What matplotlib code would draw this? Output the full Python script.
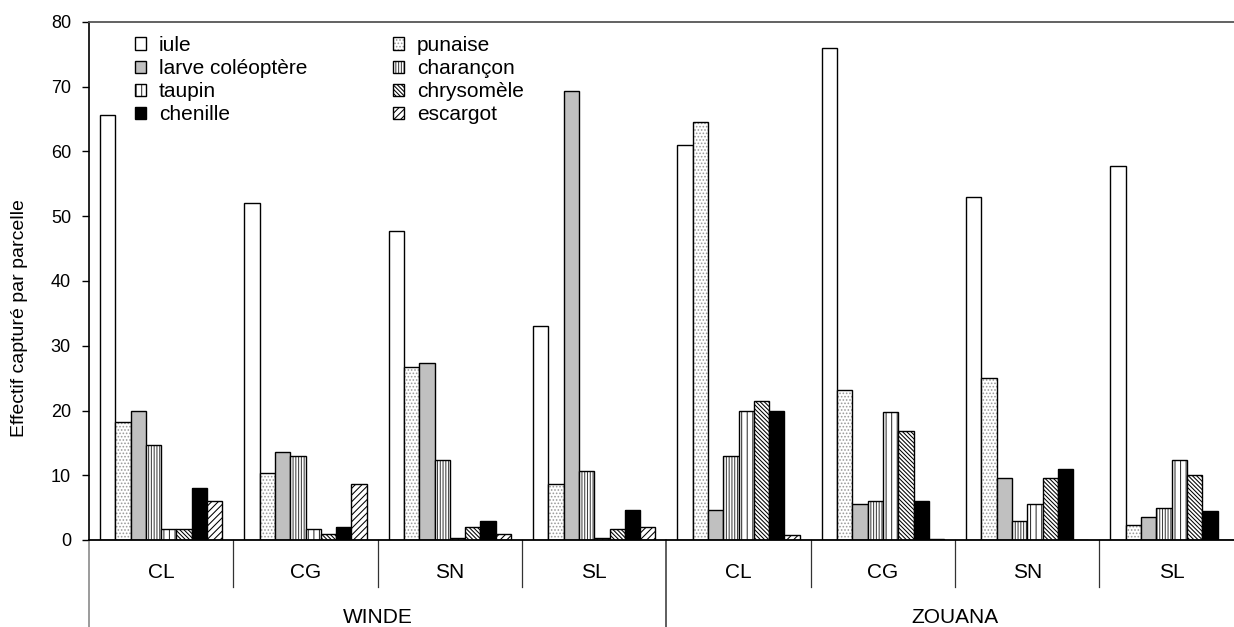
import numpy as np
import matplotlib
matplotlib.use('Agg')
import matplotlib.pyplot as plt
from matplotlib.patches import Patch
from matplotlib.transforms import blended_transform_factory

plt.rcParams['font.family'] = ['Liberation Sans', 'DejaVu Sans']
plt.rcParams['hatch.linewidth'] = 0.75

# data
villages = ['WINDE', 'ZOUANA']
sites = ['CL', 'CG', 'SN', 'SL', 'CL', 'CG', 'SN', 'SL']
species = ['iule', 'punaise', 'larve coléoptère', 'charançon',
           'taupin', 'chrysomèle', 'chenille', 'escargot']

iule = [65.7, 52.0, 47.7, 33.0, 61.0, 76.0, 53.0, 57.8]
punaise = [18.3, 10.3, 26.7, 8.7, 64.5, 23.2, 25.0, 2.3]
larve = [20.0, 13.6, 27.3, 69.3, 4.7, 5.6, 9.5, 3.5]
charancon = [14.7, 13.0, 12.3, 10.7, 13.0, 6.0, 3.0, 5.0]
taupin = [1.7, 1.7, 0.3, 0.3, 20.0, 19.8, 5.6, 12.3]
chrysomele = [1.7, 1.0, 2.0, 1.7, 21.5, 16.8, 9.5, 10.0]
chenille = [8.0, 2.0, 3.0, 4.7, 20.0, 6.0, 11.0, 4.5]
escargot = [6.0, 8.7, 1.0, 2.0, 0.7, 0.2, 0.0, 0.0]

series = [iule, punaise, larve, charancon, taupin, chrysomele, chenille, escargot]

# face colour, hatch, hatch colour
styles = [
    ('white', None, 'black'),
    ('white', '.....', '#9a9a9a'),
    ('#c0c0c0', None, 'black'),
    ('white', '||||||', '#404040'),
    ('white', '|||', '#303030'),
    ('white', '\\' * 8, 'black'),
    ('black', None, 'black'),
    ('white', '/' * 5, 'black'),
]

fig = plt.figure(figsize=(12.34, 6.27), dpi=100)
ax = fig.add_axes([89 / 1234, 87 / 627, 1154.8 / 1234, 518 / 627])

n = len(series)
bw = 0.106
x0 = np.arange(len(sites)) + 0.5 - n * bw / 2 + bw / 2

handles = []
for i, (vals, (fc, hatch, hc)) in enumerate(zip(series, styles)):
    x = x0 + i * bw
    ax.bar(x, vals, width=bw, color=fc, hatch=hatch, edgecolor=hc, linewidth=0)
    ax.bar(x, vals, width=bw, fill=False, edgecolor='black', linewidth=1.0)
    handles.append((Patch(facecolor=fc, hatch=hatch, edgecolor=hc, linewidth=0),
                    Patch(fill=False, edgecolor='black', linewidth=1.0)))

ax.set_xlim(0, len(sites))
ax.set_ylim(0, 80)
ax.set_yticks(range(0, 81, 10))
ax.set_xticks([])
ax.tick_params(axis='y', direction='out', length=5, width=1, labelsize=13, pad=8)

ax.spines['right'].set_visible(False)
ax.spines['top'].set_color('#555555')
ax.spines['top'].set_linewidth(1.3)
ax.spines['left'].set_linewidth(1.2)
ax.spines['bottom'].set_linewidth(1.3)

# category axis below
tr = blended_transform_factory(ax.transData, ax.transAxes)
for k, s in enumerate(sites):
    ax.text(k + 0.5, -0.062, s, transform=tr, ha='center', va='center', fontsize=15)
    if k % 4 != 0:
        ax.plot([k, k], [0, -0.091], transform=tr, color='#333333', lw=0.9, clip_on=False)
for j, v in enumerate(villages):
    ax.text(j * 4 + 2, -0.149, v, transform=tr, ha='center', va='center', fontsize=15)
    ax.plot([j * 4, j * 4], [0, -0.2], transform=tr,
            color='#808080' if j == 0 else '#333333', lw=1.1, clip_on=False)

fig.text(20 / 1234, 1 - 318 / 627, 'Effectif capturé par parcelle',
         rotation=90, ha='center', va='center', fontsize=14)

# legend in two columns
leg_kw = dict(frameon=False, fontsize=15, handlelength=0.55, handleheight=0.55,
              handletextpad=0.6, labelspacing=0.2, borderpad=0, borderaxespad=0,
              loc='upper left', bbox_transform=fig.transFigure)
leg1 = ax.legend([handles[i] for i in (0, 2, 4, 6)], [species[i] for i in (0, 2, 4, 6)],
                 bbox_to_anchor=(135 / 1234, 1 - 36 / 627), **leg_kw)
ax.add_artist(leg1)
ax.legend([handles[i] for i in (1, 3, 5, 7)], [species[i] for i in (1, 3, 5, 7)],
          bbox_to_anchor=(393 / 1234, 1 - 36 / 627), **leg_kw)

fig.savefig('out.png', dpi=100)
